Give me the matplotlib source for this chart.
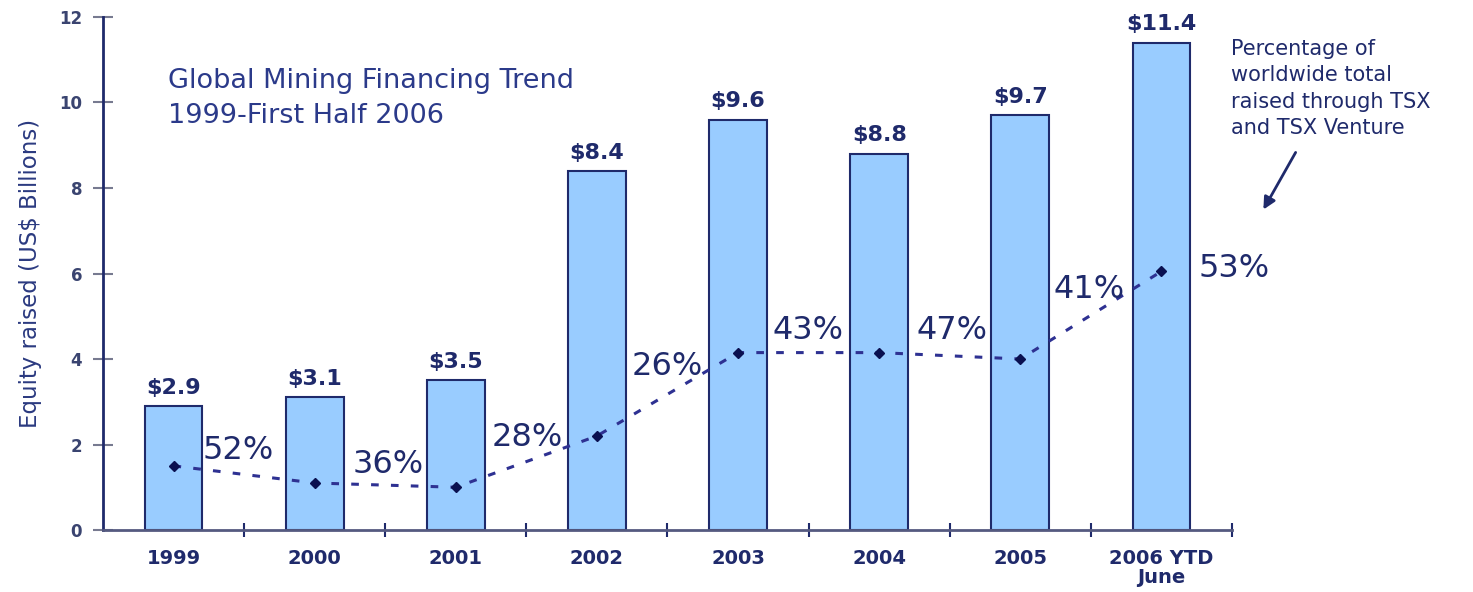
import matplotlib.pyplot as plt
import numpy as np

years = ['1999', '2000', '2001', '2002', '2003', '2004', '2005', '2006 YTD\nJune']
equity = [2.9, 3.1, 3.5, 8.4, 9.6, 8.8, 9.7, 11.4]
bar_labels = ['$2.9', '$3.1', '$3.5', '$8.4', '$9.6', '$8.8', '$9.7', '$11.4']
# dotted trend line, drawn on the same y scale as in the original
share_line = [1.5, 1.1, 1.0, 2.2, 4.15, 4.15, 4.0, 6.05]
share_labels = ['52%', '36%', '28%', '26%', '43%', '47%', '41%', '53%']
share_offsets = [(21, 11), (27, 13), (26, 36), (25, 50), (25, 16), (27, 16), (24, 50), (27, 2)]

navy = '#1f2a6b'

fig = plt.figure(figsize=(14.73, 5.92), dpi=100)
ax = fig.add_axes([0.0699, 0.1047, 0.7665, 0.8666])

x = np.arange(len(years))
ax.bar(x, equity, width=0.41, color='#99ccff', edgecolor=navy, linewidth=1.5, zorder=2)

for xi, v, lab in zip(x, equity, bar_labels):
    ax.annotate(lab, (xi, v), xytext=(0, 6), textcoords='offset points',
                ha='center', va='bottom', fontsize=16, fontweight='bold', color=navy)

ax.plot(x, share_line, color='#2e3192', linestyle=(0, (2.5, 4)), linewidth=2.2,
        marker='D', markersize=5, markerfacecolor='#0a1050', markeredgecolor='#0a1050', zorder=3)

for xi, v, lab, off in zip(x, share_line, share_labels, share_offsets):
    ax.annotate(lab, (xi, v), xytext=off, textcoords='offset points',
                ha='left', va='center', fontsize=23, color=navy, zorder=4)

ax.set_xlim(-0.5, len(years) - 0.5)
ax.set_ylim(0, 12)
ax.set_yticks(range(0, 13, 2))
ax.set_xticks(x)
ax.set_xticklabels(years, fontsize=14, fontweight='bold', color=navy, linespacing=0.95)
ax.set_xticks(np.arange(0.5, len(years), 1), minor=True)
ax.tick_params(axis='x', which='major', length=0, pad=14)
ax.tick_params(axis='x', which='minor', length=10, direction='inout', width=1.5, color=navy)
ax.tick_params(axis='y', length=14, direction='inout', width=1.5, color='#777a90',
               labelsize=12, labelcolor='#3a4470', pad=8)
for t in ax.get_yticklabels():
    t.set_fontweight('bold')

for side in ['top', 'right']:
    ax.spines[side].set_visible(False)
ax.spines['left'].set_color(navy)
ax.spines['left'].set_linewidth(2)
ax.spines['bottom'].set_color('#555a80')
ax.spines['bottom'].set_linewidth(2)

ax.set_ylabel('Equity raised (US$ Billions)', fontsize=16.5, color='#2b3a80', labelpad=12)

ax.text(0.058, 0.9, 'Global Mining Financing Trend\n1999-First Half 2006', transform=ax.transAxes,
        fontsize=19.5, color='#2b3a8a', va='top', ha='left', linespacing=1.45)

fig.text(0.836, 0.934, 'Percentage of\nworldwide total\nraised through TSX\nand TSX Venture',
         fontsize=15, color=navy, va='top', ha='left', linespacing=1.4)
ax.annotate('', xy=(1262 / 1473, 1 - 212 / 592), xytext=(1297 / 1473, 1 - 150 / 592),
            xycoords='figure fraction', textcoords='figure fraction',
            arrowprops=dict(arrowstyle='-|>', color=navy, lw=2, mutation_scale=18))

fig.savefig('out.png', dpi=100)
